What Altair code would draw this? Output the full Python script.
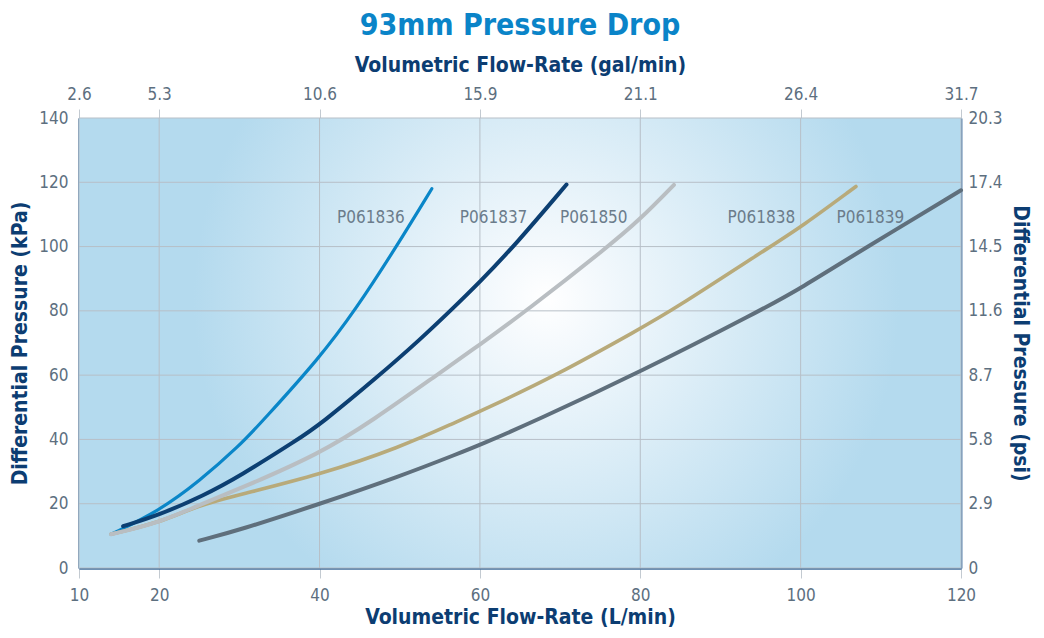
import altair as alt
import pandas as pd

# ---- data ----
series_names = ["P061836", "P061837", "P061850", "P061838", "P061839"]

flow_836 = [14, 20, 25, 30, 33, 40, 44.4, 49.6, 54]
dp_836 = [10.5, 17.8, 27, 38, 46, 65.4, 80, 100, 118]

flow_837 = [15.5, 20, 25.5, 30, 37.3, 40, 47.5, 52.5, 56.3, 60, 64.4, 70.8]
dp_837 = [13, 16.5, 22.5, 28.5, 40, 44.5, 60, 71, 80, 89, 100.5, 119.3]

flow_850 = [14, 20, 24.7, 30, 40, 46.7, 54.6, 60, 65.8, 76, 80, 84.2]
dp_850 = [10.5, 14.1, 19.3, 24.6, 35.5, 46, 60, 69.5, 80, 100, 108.5, 119.2]

flow_838 = [14, 20, 24.7, 30, 40, 50, 57.1, 60, 69.6, 80, 83.9, 96.2, 100, 106.9]
dp_838 = [10.5, 14.1, 19.3, 22.8, 29, 37.5, 45.5, 48.7, 60, 74.5, 80, 100, 106, 118.7]

flow_839 = [25, 30, 40, 50, 57.5, 60, 66.7, 80, 94.9, 100, 108, 120]
dp_839 = [8.5, 11.8, 19.9, 28.5, 35.8, 38.3, 45.5, 61, 80, 87, 99.5, 117.5]

label_flow = [46.4, 61.7, 74.2, 95.1, 108.7]
label_dp = [109, 109, 109, 109, 109]

lmin_ticks = [10, 20, 40, 60, 80, 100, 120]
gal_labels = ["2.6", "5.3", "10.6", "15.9", "21.1", "26.4", "31.7"]
kpa_ticks = [0, 20, 40, 60, 80, 100, 120, 140]
psi_labels = ["0", "2.9", "5.8", "8.7", "11.6", "14.5", "17.4", "20.3"]

# ---- styling ----
colors = {"P061836": "#0a86c8", "P061837": "#0c3f72", "P061850": "#b9bec2",
          "P061838": "#b8aa7a", "P061839": "#5f6f7c"}
widths = {"P061836": 3.2, "P061837": 4, "P061850": 4, "P061838": 3.6, "P061839": 4}
draw_order = ["P061839", "P061836", "P061837", "P061838", "P061850"]

FONT = "Liberation Sans Narrow, DejaVu Sans Condensed, sans-serif"
LABEL_COLOR = "#5d6f7f"
TITLE_COLOR = "#0c3d72"
AXIS_BLUE = "#3f6c9b"
LIGHT = "#c3cad1"
GRID = "#b7bfc7"
W, H = 882, 450
LFS = 17

series_data = {
    "P061836": (flow_836, dp_836),
    "P061837": (flow_837, dp_837),
    "P061850": (flow_850, dp_850),
    "P061838": (flow_838, dp_838),
    "P061839": (flow_839, dp_839),
}
rows = []
for name, (fl, dp) in series_data.items():
    for i, (a, b) in enumerate(zip(fl, dp)):
        rows.append({"series": name, "q": a, "p": b, "i": i})
df = pd.DataFrame(rows)

labels_df = pd.DataFrame({"name": series_names, "q": label_flow, "p": label_dp})


def make_expr(ticks, labels):
    parts = [f"datum.value == {t} ? '{l}'" for t, l in zip(ticks, labels)]
    return " : ".join(parts) + " : ''"


xscale = alt.Scale(domain=[10, 120], nice=False, zero=False)
yscale = alt.Scale(domain=[0, 140], nice=False)

bottom_axis = alt.Axis(
    orient="bottom", values=lmin_ticks, grid=False, labelFlush=False,
    domainColor=AXIS_BLUE, domainWidth=2.5, ticks=True, tickColor=LIGHT, tickSize=10,
    labelColor=LABEL_COLOR, labelFont=FONT, labelFontSize=LFS, labelPadding=9,
    title="Volumetric Flow-Rate (L/min)", titleColor=TITLE_COLOR, titleFont=FONT,
    titleFontSize=21, titleFontWeight="bold", titlePadding=3,
)
left_axis = alt.Axis(
    orient="left", values=kpa_ticks, grid=False, labelFlush=False,
    domainColor=AXIS_BLUE, domainWidth=2.5, ticks=False,
    labelColor=LABEL_COLOR, labelFont=FONT, labelFontSize=LFS, labelPadding=11,
    title="Differential Pressure (kPa)", titleColor=TITLE_COLOR, titleFont=FONT,
    titleFontSize=21, titleFontWeight="bold", titlePadding=8,
)
top_axis = alt.Axis(
    orient="top", values=lmin_ticks, grid=False, labelFlush=False,
    domainColor=LIGHT, domainWidth=1, ticks=True, tickColor=LIGHT, tickSize=9,
    labelColor=LABEL_COLOR, labelFont=FONT, labelFontSize=LFS, labelPadding=6,
    labelExpr=make_expr(lmin_ticks, gal_labels),
    title="Volumetric Flow-Rate (gal/min)", titleColor=TITLE_COLOR, titleFont=FONT,
    titleFontSize=21, titleFontWeight="bold", titlePadding=10,
)
right_axis = alt.Axis(
    orient="right", values=kpa_ticks, grid=False, labelFlush=False,
    domainColor="#5a84ae", domainWidth=2, ticks=False,
    labelColor=LABEL_COLOR, labelFont=FONT, labelFontSize=LFS, labelPadding=7,
    labelExpr=make_expr(kpa_ticks, psi_labels),
    title="Differential Pressure (psi)", titleColor=TITLE_COLOR, titleFont=FONT,
    titleFontSize=21, titleFontWeight="bold", titlePadding=7,
)

gradient = alt.RadialGradient(
    gradient="radial",
    x1=0.53, y1=0.45, r1=0,
    x2=0.53, y2=0.45, r2=0.4,
    stops=[
        alt.GradientStop(offset=0, color="#ffffff"),
        alt.GradientStop(offset=0.12, color="#f6fafd"),
        alt.GradientStop(offset=1, color="#b4daee"),
    ],
)

bg = (
    alt.Chart(pd.DataFrame({"a": [0]}))
    .mark_rect(fill=gradient, stroke=None)
    .encode(x=alt.value(0), x2=alt.value(W), y=alt.value(0), y2=alt.value(H))
)

vgrid = (
    alt.Chart(pd.DataFrame({"v": lmin_ticks}))
    .mark_rule(color=GRID, strokeWidth=1)
    .encode(x=alt.X("v:Q", scale=xscale, axis=None))
)
hgrid = (
    alt.Chart(pd.DataFrame({"v": kpa_ticks}))
    .mark_rule(color=GRID, strokeWidth=1)
    .encode(y=alt.Y("v:Q", scale=yscale, axis=None))
)

layers = [bg, vgrid, hgrid]
for k, name in enumerate(draw_order):
    ax_x = bottom_axis if k == 0 else None
    ax_y = left_axis if k == 0 else None
    layers.append(
        alt.Chart(df)
        .transform_filter(alt.datum.series == name)
        .mark_line(interpolate="basis", color=colors[name], strokeWidth=widths[name],
                   strokeCap="round")
        .encode(
            x=alt.X("q:Q", scale=xscale, axis=ax_x),
            y=alt.Y("p:Q", scale=yscale, axis=ax_y),
            order="i:Q",
        )
    )

text_layer = (
    alt.Chart(labels_df)
    .mark_text(font=FONT, fontSize=17, color="#6b7c8b", align="center", baseline="middle")
    .encode(
        x=alt.X("q:Q", scale=xscale, axis=top_axis),
        y=alt.Y("p:Q", scale=yscale, axis=right_axis),
        text="name:N",
    )
)
layers.append(text_layer)

chart = (
    alt.layer(*layers)
    .resolve_axis(x="independent", y="independent")
    .properties(
        width=W,
        height=H,
        title=alt.TitleParams(
            "93mm Pressure Drop", font=FONT, fontSize=30, fontWeight="bold",
            color="#0a84c8", offset=13, anchor="middle",
        ),
        autosize=alt.AutoSizeParams(type="none"),
        padding={"left": 71, "top": 110, "right": 75, "bottom": 62},
    )
    .configure(background="white")
    .configure_view(stroke=None)
)

chart.save("out.html", embed_options={"renderer": "svg", "actions": False})
